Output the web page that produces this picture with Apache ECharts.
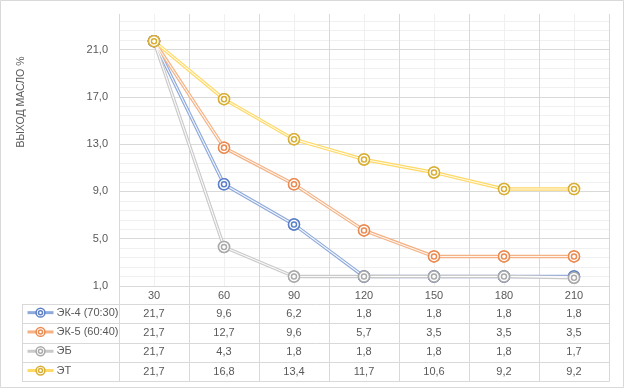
<!DOCTYPE html>
<html><head><meta charset="utf-8">
<script src="https://cdn.jsdelivr.net/npm/echarts@6/dist/echarts.min.js"></script>
<style>html,body{margin:0;padding:0;background:#fff}#c{width:624px;height:389px}</style>
</head><body><div id="c"></div>
<script>
const categories = ['30', '60', '90', '120', '150', '180', '210'];
const seriesNames = ['ЭК-4 (70:30)', 'ЭК-5 (60:40)', 'ЭБ', 'ЭТ'];
const ek4 = [21.7, 9.6, 6.2, 1.8, 1.8, 1.8, 1.8];
const ek5 = [21.7, 12.7, 9.6, 5.7, 3.5, 3.5, 3.5];
const eb  = [21.7, 4.3, 1.8, 1.8, 1.8, 1.8, 1.7];
const et  = [21.7, 16.8, 13.4, 11.7, 10.6, 9.2, 9.2];
const yTicks = [1, 5, 9, 13, 17, 21];
const yTitle = 'ВЫХОД МАСЛО %';

const values = [ek4, ek5, eb, et];
const lineColors = ['#8EA9DB', '#F4B183', '#C9C9C9', '#FFD966'];
const markColors = ['#5B7FC7', '#EB8A50', '#A9A9A9', '#D9AE35'];
const FONT = 'Liberation Sans';
const TXT = '#595959';
const GRID = '#D9D9D9';
const MINOR = '#F0F0F0';
const fmt = v => v.toFixed(1).replace('.', ',');

const SYM = 'path://M5 0A5 5 0 1 1 -5 0A5 5 0 1 1 5 0Z M2.3 0A2.3 2.3 0 1 1 -2.3 0A2.3 2.3 0 1 1 2.3 0Z';

const PL = 119, PR = 609, PT = 14, PB = 286;
const TABLE_LEFT = 22;
const rowLines = [304, 323.3, 342.6, 361.9, 381.2];

const chart = echarts.init(document.getElementById('c'), null, {renderer: 'canvas'});

const series = [];
values.forEach((vals, i) => {
  series.push({
    name: seriesNames[i], type: 'line', data: vals, xAxisIndex: 0, yAxisIndex: 0,
    z: 2, symbol: SYM, symbolSize: 11, showSymbol: true,
    lineStyle: {color: lineColors[i], width: 3.4},
    itemStyle: {color: '#fff', borderColor: markColors[i], borderWidth: 1.5},
    emphasis: {disabled: true}
  });
});
values.forEach((vals, i) => {
  series.push({
    name: '_w' + i, type: 'line', data: vals, xAxisIndex: 0, yAxisIndex: 0,
    z: 3, symbol: 'none', silent: true,
    lineStyle: {color: 'rgba(255,255,255,0.9)', width: 1.1},
    emphasis: {disabled: true}
  });
});
values.forEach((vals, i) => {
  series.push({
    name: '_m' + i, type: 'line', data: vals, xAxisIndex: 0, yAxisIndex: 0,
    z: 4, symbol: SYM, symbolSize: 11, silent: true,
    lineStyle: {width: 0, opacity: 0},
    itemStyle: {color: '#fff', borderColor: markColors[i], borderWidth: 1.5},
    emphasis: {disabled: true}
  });
});

const rowCenters = rowLines.slice(0, 4).map((y, i) => (y + rowLines[i + 1]) / 2);

const legends = seriesNames.map((n, i) => ({
  data: [n], orient: 'vertical', left: 26, top: rowCenters[i] - 6.5,
  padding: 0, itemWidth: 26, itemHeight: 11, itemGap: 0, selectedMode: false,
  itemStyle: {color: '#fff', borderColor: markColors[i], borderWidth: 1.5},
  lineStyle: {color: lineColors[i], width: 3},
  textStyle: {color: TXT, fontSize: 11, fontFamily: FONT, padding: [0, 0, 0, -2]}
}));

chart.setOption({
  animation: false,
  backgroundColor: '#fff',
  grid: {left: PL, right: 624 - PR, top: PT, bottom: 389 - PB, containLabel: false},
  legend: legends,
  xAxis: [
    {type: 'category', data: categories, boundaryGap: true,
     axisLine: {show: false}, axisTick: {show: false}, splitLine: {show: false},
     axisLabel: {color: TXT, fontSize: 11, fontFamily: FONT, margin: 4}},
    {type: 'value', min: 0, max: 7, interval: 1, position: 'bottom',
     axisLine: {show: false}, axisTick: {show: false}, axisLabel: {show: false},
     splitLine: {show: true, lineStyle: {color: GRID, width: 1}},
     minorTick: {show: false, splitNumber: 2},
     minorSplitLine: {show: true, lineStyle: {color: MINOR, width: 1}}}
  ],
  yAxis: [
    {type: 'value', min: 1, max: 24, interval: 4, z: 2,
     axisLine: {show: false}, axisTick: {show: false},
     axisLabel: {color: TXT, fontSize: 11, fontFamily: FONT, margin: 11, showMaxLabel: false,
                 formatter: v => yTicks.includes(Math.round(v * 1000) / 1000) ? fmt(v) : ''},
     splitLine: {show: true, showMaxLine: false, lineStyle: {color: GRID, width: 1}}},
    {type: 'value', min: 1, max: 24, interval: 0.8, z: 0, position: 'left',
     axisLine: {show: false}, axisTick: {show: false}, axisLabel: {show: false},
     splitLine: {show: true, showMinLine: false, showMaxLine: false, lineStyle: {color: MINOR, width: 1}}}
  ],
  series: series
});

const g = [];
g.push({type: 'rect', shape: {x: 0.5, y: 0.5, width: 623, height: 387}, style: {fill: null, stroke: GRID, lineWidth: 1}, silent: true, z: 100});
g.push({type: 'text', x: 21, y: 102, rotation: Math.PI / 2,
        style: {text: yTitle, fill: TXT, font: '10.5px ' + FONT, align: 'center', verticalAlign: 'middle'}});
const cx = categories.map(c => chart.convertToPixel({xAxisIndex: 0}, c));
const bounds = [];
for (let k = 0; k <= categories.length; k++) bounds.push(Math.round(chart.convertToPixel({xAxisIndex: 1}, k)) + 0.5);
bounds.forEach(x => g.push({type: 'line', shape: {x1: x, y1: PB, x2: x, y2: rowLines[4]}, style: {stroke: GRID, lineWidth: 1}}));
g.push({type: 'line', shape: {x1: TABLE_LEFT + 0.5, y1: rowLines[0], x2: TABLE_LEFT + 0.5, y2: rowLines[4]}, style: {stroke: GRID, lineWidth: 1}});
rowLines.forEach(y => {
  const yy = Math.round(y) + 0.5;
  g.push({type: 'line', shape: {x1: TABLE_LEFT, y1: yy, x2: bounds[bounds.length - 1], y2: yy}, style: {stroke: GRID, lineWidth: 1}});
});
values.forEach((vals, i) => {
  vals.forEach((v, j) => {
    g.push({type: 'text', x: cx[j], y: rowCenters[i],
            style: {text: fmt(v), fill: TXT, font: '11px ' + FONT, align: 'center', verticalAlign: 'middle'}});
  });
});
chart.setOption({graphic: g});
</script></body></html>
